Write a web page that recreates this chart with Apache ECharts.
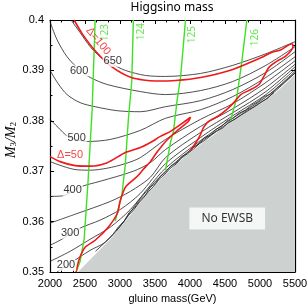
<!DOCTYPE html>
<html><head><meta charset="utf-8">
<script src="https://cdn.jsdelivr.net/npm/echarts@6/dist/echarts.min.js"></script>
<style>html,body{margin:0;padding:0;background:#fff}#c{width:308px;height:308px}</style>
</head><body><div id="c"></div>
<script>
// ---- data (gluino mass [GeV], M3/M2) ----
const noEwsbEdge=[[2400,0.3500],[2575,0.3525],[2717,0.3545],[2861,0.3565],[3004,0.3589],[3148,0.3613],[3291,0.3638],[3434,0.3662],[3621,0.3690],[3865,0.3721],[4109,0.3749],[4367,0.3775],[4582,0.3797],[4797,0.3816],[5012,0.3834],[5227,0.3856],[5370,0.3874],[5500,0.3892]];
const mu650=[[2301,0.4],[2430,0.3975],[2574,0.3947],[2717,0.3927],[2897,0.3912],[3076,0.3900],[3363,0.3890],[3650,0.3888],[4152,0.3894],[4611,0.3910],[5084,0.3933],[5500,0.3957]];
const mu600=[[2000,0.3997],[2100,0.3961],[2244,0.3927],[2430,0.3900],[2574,0.3886],[2818,0.3872],[3291,0.3858],[3650,0.3852],[4152,0.3860],[4611,0.3878],[5084,0.3910],[5500,0.3947]];
const mu550=[[2000,0.3900],[2115,0.3874],[2244,0.3852],[2430,0.3836],[2645,0.3828],[2961,0.3820],[3291,0.3818],[3650,0.3828],[4152,0.3840],[4611,0.3862],[5084,0.3896],[5500,0.3937]];
const mu500=[[2000,0.3803],[2115,0.3787],[2258,0.3769],[2531,0.3759],[2861,0.3763],[3291,0.3781],[3650,0.3805],[4152,0.3822],[4611,0.3848],[5084,0.3886],[5500,0.3927]];
const mu450=[[2000,0.3719],[2330,0.3704],[2574,0.3702],[2818,0.3706],[3076,0.3715],[3291,0.3727],[3650,0.3763],[4152,0.3803],[4611,0.3834],[5084,0.3876],[5500,0.3919]];
const mu400=[[2000,0.3650],[2172,0.3651],[2459,0.3670],[2717,0.3680],[3191,0.3700],[3434,0.3717],[3650,0.3743],[4152,0.3789],[4611,0.3824],[5084,0.3866],[5500,0.3912]];
const mu350=[[2000,0.3597],[2387,0.3616],[2861,0.3640],[3148,0.3660],[3434,0.3688],[3650,0.3727],[4152,0.3777],[4611,0.3816],[5084,0.3858],[5500,0.3907]];
const mu300=[[2000,0.3553],[2143,0.3563],[2430,0.3587],[2717,0.3603],[3004,0.3624],[3291,0.3656],[3650,0.3715],[4152,0.3767],[4611,0.3810],[5084,0.3852],[5500,0.3902]];
const mu250=[[2000,0.3521],[2287,0.3541],[2574,0.3565],[2861,0.3589],[3148,0.3624],[3434,0.3672],[3650,0.3706],[4152,0.3761],[4611,0.3805],[5084,0.3847],[5500,0.3898]];
const mu200=[[2100,0.35],[2287,0.3517],[2574,0.3543],[2789,0.3559],[3004,0.3591],[3291,0.3646],[3650,0.3700],[4152,0.3758],[4611,0.3801],[5084,0.3843],[5500,0.3895]];
const muWiggle1=[[2650,0.3541],[2780,0.3558],[2900,0.3575],[2980,0.3590],[3060,0.3601],[3130,0.3618],[3200,0.3626],[3290,0.3643],[3360,0.3652],[3430,0.3668],[3500,0.3675],[3580,0.3690],[3650,0.3698],[3730,0.3711],[3800,0.3716],[3880,0.3729],[3960,0.3735],[4040,0.3747],[4120,0.3753],[4200,0.3766],[4290,0.3771],[4370,0.3783],[4450,0.3789],[4530,0.3800],[4610,0.3805],[4700,0.3815],[4790,0.3821],[4880,0.3831],[4970,0.3838],[5060,0.3848],[5150,0.3853],[5250,0.3865],[5350,0.3877],[5500,0.3895]];
const muWiggle2=[[2950,0.3582],[3050,0.3599],[3120,0.3612],[3200,0.3624],[3270,0.3637],[3340,0.3648],[3410,0.3660],[3480,0.3670],[3560,0.3684],[3640,0.3694],[3720,0.3706],[3800,0.3714],[3880,0.3726],[3960,0.3734],[4050,0.3744],[4130,0.3754],[4210,0.3761],[4300,0.3771],[4380,0.3779],[4470,0.3786],[4550,0.3797],[4640,0.3803],[4730,0.3812],[4820,0.3821],[4900,0.3827],[5000,0.3836],[5100,0.3844],[5200,0.3856]];
const delta100=[[2344,0.4],[2459,0.3973],[2645,0.3939],[2875,0.3908],[3162,0.3886],[3506,0.3879],[3793,0.3880],[4152,0.3886],[4611,0.3902],[5012,0.3925],[5156,0.3935],[5299,0.3941],[5457,0.3953],[5471,0.3947],[5371,0.3929],[5227,0.3917],[5127,0.3906],[5055,0.3888],[4984,0.3872],[4869,0.3862],[4725,0.3852],[4639,0.3838],[4539,0.3824],[4410,0.3810],[4266,0.3799],[4194,0.3787],[4137,0.3769],[4066,0.3753],[4008,0.3741]];
const delta50=[[2000,0.3729],[2143,0.3719],[2359,0.3711],[2574,0.3710],[2818,0.3717],[3076,0.3737],[3291,0.3747],[3434,0.3757],[3578,0.3769],[3721,0.3779],[3908,0.3797],[4008,0.3807],[3979,0.3799],[3822,0.3781],[3678,0.3763],[3535,0.3739],[3434,0.3719],[3334,0.3704],[3248,0.3690],[3148,0.3678],[3076,0.3668],[3004,0.3642],[2961,0.3616],[2832,0.3589],[2645,0.3563],[2502,0.3549],[2416,0.3525],[2373,0.35]];
const mh123=[[2645,0.4],[2602,0.3822],[2545,0.3683],[2488,0.3565],[2430,0.3521],[2373,0.35]];
const mh124=[[3191,0.4],[3168,0.3878],[3119,0.3802],[3076,0.3713],[3028,0.3654],[2932,0.3601]];
const mh125=[[3936,0.4],[3865,0.3886],[3817,0.3842],[3764,0.3779],[3721,0.3757],[3650,0.3702]];
const mh126=[[4812,0.4],[4740,0.3917],[4668,0.3846],[4582,0.3802]];
const muLabelText=['650','600','500','400','300','200'];
const muLabelAt=[[2897,0.3918],[2416,0.3899],[2380,0.3765],[2323,0.3662],[2287,0.3577],[2229,0.3513]];
const mhLabelText=['123','124','125','126'];
const mhLabelAt=[[2790,0.3975],[3300,0.3977],[4030,0.3971],[4930,0.3965]];
const delta100Label=['Δ=100',[2690,0.3958]];
const delta50Label=['Δ=50',[2287,0.3733]];
const regionLabel=['No EWSB',[4532,0.3606]];

const chart=echarts.init(document.getElementById('c'),null,{renderer:'canvas'});
const SANS='Liberation Sans, Arial, sans-serif';
const HUM='Noto Sans, Open Sans, sans-serif';
function blackLine(d,smooth){return {type:'line',data:d,smooth:smooth,symbol:'none',silent:true,z:3,lineStyle:{color:'#222',width:0.8}};}
function axisCommon(){return {type:'value',axisLine:{show:true,onZero:false,lineStyle:{color:'#000',width:1.2}},
  axisTick:{show:true,inside:true,length:4,lineStyle:{color:'#000',width:1}},
  minorTick:{show:true,length:2.5,lineStyle:{color:'#000',width:1}},splitLine:{show:false},minorSplitLine:{show:false}};}
function textSeries(text,pos,color,size,extra){
  return Object.assign({type:'scatter',symbol:'circle',symbolSize:1,itemStyle:{color:'rgba(0,0,0,0)'},silent:true,z:6,
    data:text.map((t,i)=>({name:t,value:pos[i]})),
    label:Object.assign({show:true,position:'inside',formatter:'{b}',color:color,fontSize:size,fontFamily:SANS},extra||{})});
}
const xa=axisCommon(), xb=axisCommon(), ya=axisCommon(), yb=axisCommon();
Object.assign(xa,{position:'bottom',min:2000,max:5500,interval:500,
  axisLabel:{color:'#000',fontSize:11,fontFamily:SANS,margin:6,formatter:v=>String(v)},
  name:'gluino mass(GeV)',nameLocation:'middle',nameGap:20,nameTextStyle:{color:'#000',fontSize:11,fontFamily:SANS}});
xa.minorTick.splitNumber=3;
Object.assign(xb,{position:'top',min:2000,max:5500,interval:500,axisLabel:{show:false}});
xb.minorTick.splitNumber=3;
Object.assign(ya,{position:'left',min:0.35,max:0.4,interval:0.01,
  axisLabel:{color:'#000',fontSize:11,fontFamily:SANS,margin:6}});
ya.minorTick.splitNumber=2;
Object.assign(yb,{position:'right',min:0.35,max:0.4,interval:0.01,axisLabel:{show:false}});
yb.minorTick.splitNumber=2;

chart.setOption({
  animation:false,
  backgroundColor:'#fff',
  grid:{left:50,right:13,top:20,bottom:36,containLabel:false,outerBoundsMode:'none'},
  xAxis:[xa,xb],
  yAxis:[ya,yb],
  graphic:[
    {type:'text',x:172,y:8,style:{text:'Higgsino mass',fill:'#000',fontSize:12,fontFamily:HUM,align:'center',verticalAlign:'middle'}},
    {type:'text',x:10,y:140,rotation:Math.PI/2,style:{text:'{m|M}{s|3}{m|/M}{s|2}',align:'center',verticalAlign:'middle',
      rich:{m:{fontFamily:'Liberation Serif, serif',fontStyle:'italic',fontSize:14,fill:'#000',lineHeight:16,verticalAlign:'bottom'},
            s:{fontFamily:'Liberation Serif, serif',fontSize:9,fill:'#000',lineHeight:9,verticalAlign:'bottom'}}}}
  ],
  series:[
    {type:'line',data:noEwsbEdge,symbol:'none',silent:true,z:1,lineStyle:{width:0,color:'#cdd1d0'},areaStyle:{color:'#cdd1d0',opacity:1,origin:'start'}},
    blackLine(mu650,0.3),blackLine(mu600,0.3),blackLine(mu550,0.3),blackLine(mu500,0.3),blackLine(mu450,0.3),
    blackLine(mu400,0.3),blackLine(mu350,0.3),blackLine(mu300,0.3),blackLine(mu250,0.3),blackLine(mu200,0.3),
    blackLine(muWiggle1,false),blackLine(muWiggle2,false),
    {type:'line',data:mh123,symbol:'none',silent:true,z:4,lineStyle:{color:'#3ee023',width:1.4}},
    {type:'line',data:mh124,symbol:'none',silent:true,z:4,lineStyle:{color:'#3ee023',width:1.4}},
    {type:'line',data:mh125,symbol:'none',silent:true,z:4,lineStyle:{color:'#3ee023',width:1.4}},
    {type:'line',data:mh126,symbol:'none',silent:true,z:4,lineStyle:{color:'#3ee023',width:1.4}},
    {type:'line',data:delta100,smooth:0.25,symbol:'none',silent:true,z:5,lineStyle:{color:'#f01818',width:1.6}},
    {type:'line',data:delta50,smooth:0.25,symbol:'none',silent:true,z:5,lineStyle:{color:'#f01818',width:1.6}},
    textSeries(muLabelText,muLabelAt,'#000',11,{backgroundColor:'#fff',padding:[0,1]}),
    textSeries(mhLabelText,mhLabelAt,'#3ee023',10,{rotate:90,fontFamily:HUM}),
    textSeries([delta100Label[0]],[delta100Label[1]],'#f01818',11,{rotate:-50}),
    textSeries([delta50Label[0]],[delta50Label[1]],'#f01818',11),
    textSeries([regionLabel[0]],[regionLabel[1]],'#000',12,{fontFamily:HUM,backgroundColor:'#fff',padding:[5,12]})
  ]
});
</script></body></html>
